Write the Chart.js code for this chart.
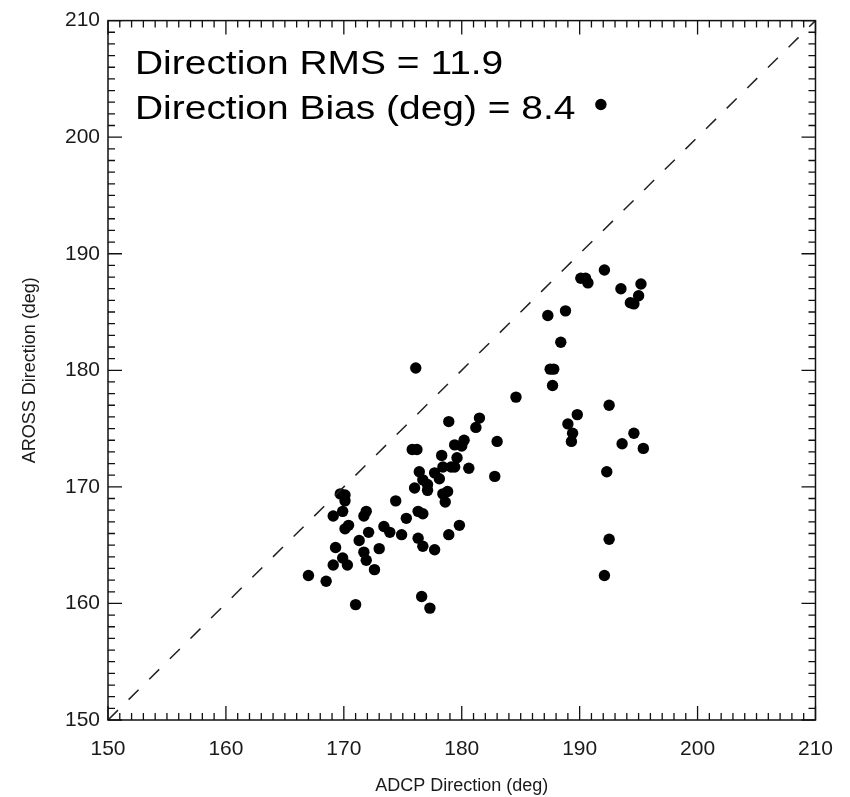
<!DOCTYPE html>
<html>
<head>
<meta charset="utf-8">
<title>AROSS vs ADCP Direction</title>
<script src="https://cdn.jsdelivr.net/npm/chart.js@4.4.1/dist/chart.umd.min.js"></script>
<style>
  html, body { margin: 0; padding: 0; background: #fff; }
  #wrap { position: relative; width: 850px; height: 797px; }
</style>
</head>
<body>
<div id="wrap"><canvas id="chartDirecao"></canvas></div>
<script>
// ADCP direction (x) and AROSS direction (y), in degrees
const adcpDir = [
  191.8,
  178.9, 181.5, 181.2, 183.0, 182.8, 179.4, 180.2, 180.0, 179.6, 178.3,
  175.8, 176.2, 176.4, 177.7, 178.4, 179.1, 179.4, 180.6, 176.7, 178.1,
  177.1, 177.1, 176.0, 178.4, 178.8, 178.6, 174.4, 176.3, 176.7, 175.3,
  179.8, 178.9, 174.9, 173.4, 173.9, 176.3, 176.7, 177.7, 169.7, 170.1,
  170.1, 169.9, 169.1, 171.9, 171.7, 170.4, 170.1, 172.1, 171.3, 169.3,
  169.9, 170.3, 169.1, 171.7, 171.9, 173.0, 172.6, 167.0, 168.5, 171.0,
  176.6, 177.3, 176.1,
  192.1, 190.1, 190.5, 190.7, 193.5, 195.2, 195.0, 194.3, 194.6, 187.3,
  188.8, 188.4, 187.5, 187.8, 187.7, 184.6, 192.5, 189.8, 189.0, 189.4,
  189.3, 194.6, 193.6, 195.4, 192.3, 192.5, 192.1
];
const arossDir = [
  202.8,
  175.6, 175.9, 175.1, 173.9, 170.9, 173.6, 174.0, 173.5, 172.5, 172.7,
  173.2, 173.2, 171.3, 171.2, 171.7, 171.7, 171.7, 171.6, 170.6, 170.7,
  170.2, 169.7, 169.9, 169.4, 169.6, 168.7, 168.8, 167.9, 167.7, 167.3,
  166.7, 165.9, 165.9, 166.6, 166.1, 165.6, 164.9, 164.6, 169.4, 169.3,
  168.8, 167.9, 167.5, 167.9, 167.5, 166.7, 166.4, 166.1, 165.4, 164.8,
  163.9, 163.3, 163.3, 164.4, 163.7, 164.7, 162.9, 162.4, 161.9, 159.9,
  160.6, 159.6, 180.2,
  188.6, 187.9, 187.9, 187.5, 187.0, 187.4, 186.4, 185.8, 185.7, 184.7,
  185.1, 182.4, 180.1, 180.1, 178.7, 177.7, 177.0, 176.2, 175.4, 174.6,
  173.9, 174.6, 173.7, 173.3, 171.3, 165.5, 162.4
];
const linha11 = [150, 210];
const eixoMin = 150;
const eixoMax = 210;
const passoMaior = 10;
const passoMenor = 1;
const textoAnotacao = ['Direction RMS = 11.9', 'Direction Bias (deg) = 8.4'];

const pontos = adcpDir.map((x, i) => ({ x: x, y: arossDir[i] }));
const pontosLinha = linha11.map(v => ({ x: v, y: v }));

const fonte = 'Liberation Sans, Arial, Helvetica, sans-serif';
const corTexto = '#1a1a1a';

// moldura com ticks para dentro nos quatro lados (estilo IDL)
const molduraPlugin = {
  id: 'moldura',
  afterDraw(chart) {
    const { ctx, chartArea: a, scales } = chart;
    const sx = scales.x, sy = scales.y;
    ctx.save();
    ctx.strokeStyle = '#111';
    ctx.lineWidth = 1.5;
    ctx.strokeRect(a.left, a.top, a.right - a.left, a.bottom - a.top);
    ctx.lineWidth = 1.3;
    ctx.beginPath();
    for (let v = eixoMin; v <= eixoMax; v += passoMenor) {
      const len = (v % passoMaior === 0) ? 14 : 7;
      const px = sx.getPixelForValue(v);
      ctx.moveTo(px, a.bottom); ctx.lineTo(px, a.bottom - len);
      ctx.moveTo(px, a.top); ctx.lineTo(px, a.top + len);
      const py = sy.getPixelForValue(v);
      ctx.moveTo(a.left, py); ctx.lineTo(a.left + len, py);
      ctx.moveTo(a.right, py); ctx.lineTo(a.right - len, py);
    }
    ctx.stroke();

    // anotação no canto superior esquerdo (texto um pouco esticado na horizontal, como no original)
    ctx.fillStyle = '#000';
    ctx.font = '33px ' + fonte;
    ctx.textAlign = 'left';
    ctx.textBaseline = 'alphabetic';
    ctx.translate(a.left + 27, 0);
    ctx.scale(1.18, 1);
    ctx.fillText(textoAnotacao[0], 0, a.top + 53);
    ctx.fillText(textoAnotacao[1], 0, a.top + 98);
    ctx.restore();
  }
};

new Chart(document.getElementById('chartDirecao'), {
  type: 'scatter',
  data: {
    datasets: [
      {
        label: '1:1',
        type: 'line',
        data: pontosLinha,
        borderColor: '#222',
        borderWidth: 1.5,
        borderDash: [14, 15],
        pointRadius: 0,
        fill: false
      },
      {
        label: 'AROSS vs ADCP',
        data: pontos,
        backgroundColor: '#000',
        borderColor: '#000',
        borderWidth: 0,
        pointRadius: 5.7,
        pointHoverRadius: 5.7
      }
    ]
  },
  options: {
    responsive: true,
    maintainAspectRatio: false,
    animation: false,
    layout: { padding: { top: 12, right: 33, left: 0, bottom: 0 } },
    plugins: {
      legend: { display: false },
      tooltip: { enabled: false }
    },
    scales: {
      x: {
        type: 'linear',
        min: eixoMin,
        max: eixoMax,
        grid: { display: false, drawTicks: false },
        border: { display: false },
        ticks: {
          stepSize: passoMaior,
          padding: 17,
          color: corTexto,
          font: { family: fonte, size: 21 }
        },
        title: {
          display: true,
          text: 'ADCP Direction (deg)',
          color: corTexto,
          padding: { top: 0, bottom: 0 },
          font: { family: fonte, size: 18 }
        },
        afterFit(scale) { scale.height = 77; }
      },
      y: {
        type: 'linear',
        min: eixoMin,
        max: eixoMax,
        grid: { display: false, drawTicks: false },
        border: { display: false },
        ticks: {
          stepSize: passoMaior,
          padding: 8,
          color: corTexto,
          font: { family: fonte, size: 21 }
        },
        title: {
          display: true,
          text: 'AROSS Direction (deg)',
          color: corTexto,
          padding: { top: 19, bottom: 0 },
          font: { family: fonte, size: 18 }
        },
        afterFit(scale) { scale.width = 108; }
      }
    }
  },
  plugins: [molduraPlugin]
});
</script>
</body>
</html>
